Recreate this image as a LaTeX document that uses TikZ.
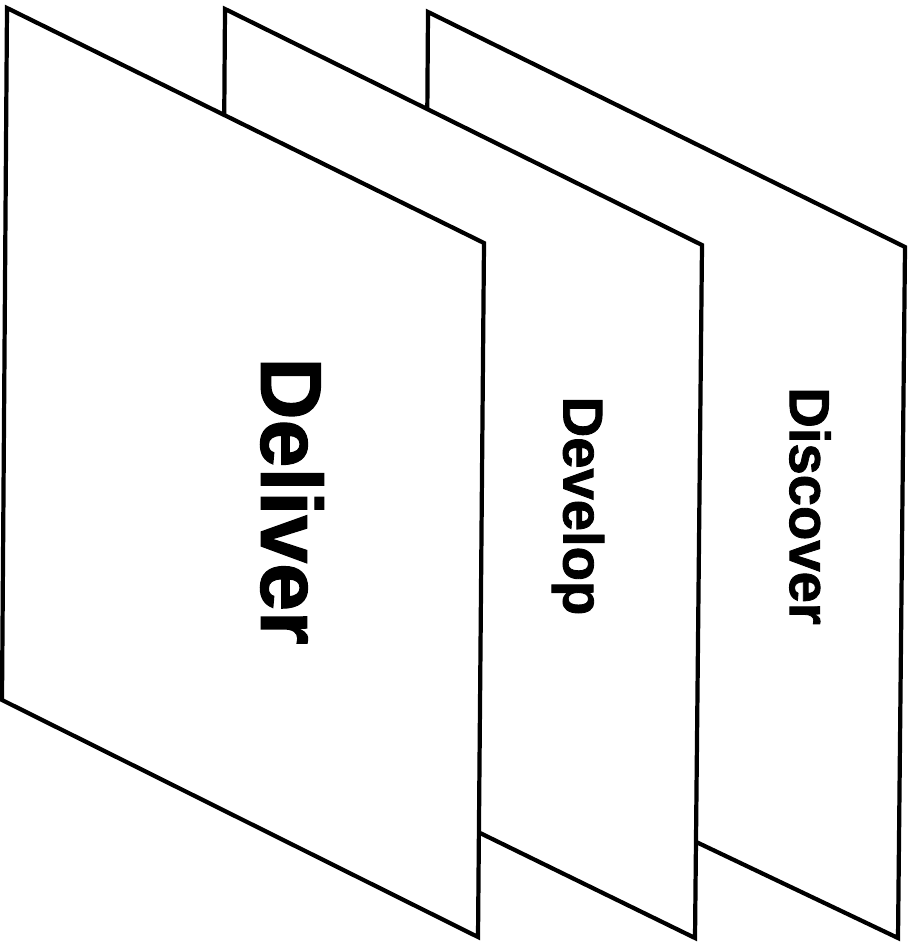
\documentclass[tikz,border=0pt]{standalone}
\usepackage{fontspec}
\setmainfont{Liberation Sans}[BoldFeatures={FakeBold=1.5}]
\usepackage{tikz}

\begin{document}
\begin{tikzpicture}[x=0.02cm, y=-0.02cm, thick,
        panel/.style={draw, line width=2.4pt, fill=white, line join=miter},
        bigword/.style={rotate=-90, font=\bfseries\fontsize{49}{51}\selectfont},
        word/.style={rotate=-90, font=\bfseries\fontsize{32}{34}\selectfont}]
        \useasboundingbox (0,0) rectangle (911,942);

        % back to front, so each sheet hides the one behind it
        \draw[panel] (428,12) -- (905,247) -- (898,938) -- (423,712) -- cycle;
        \draw[panel] (225,9) -- (702,245) -- (695,938) -- (220,706) -- cycle;
        \draw[panel] (7,8) -- (484,243) -- (478,937) -- (2,700) -- cycle;

        \node[word] (discover) at (810,506) {Discover};
        \node[word] (develop) at (578,506) {Develop};
        \node[bigword] (deliver) at (292,501) {Deliver};
    \end{tikzpicture}
\end{document}
